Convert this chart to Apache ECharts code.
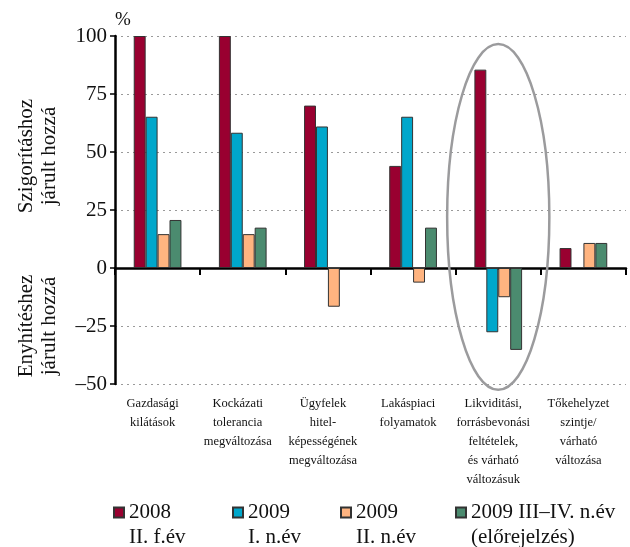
<!DOCTYPE html>
<html>
<head>
<meta charset="utf-8">
<script src="https://cdn.jsdelivr.net/npm/echarts@6/dist/echarts.min.js"></script>
<style>html,body{margin:0;padding:0;background:#fff;}#c{width:630px;height:547px;}</style>
</head>
<body>
<div id="c"></div>
<script>
const categories = [
  'Gazdasági\nkilátások',
  'Kockázati\ntolerancia\nmegváltozása',
  'Ügyfelek\nhitel-\nképességének\nmegváltozása',
  'Lakáspiaci\nfolyamatok',
  'Likviditási,\nforrásbevonási\nfeltételek,\nés várható\nváltozásuk',
  'Tőkehelyzet\nszintje/\nvárható\nváltozása'
];
const seriesNames = ['2008 II. f.év', '2009 I. n.év', '2009 II. n.év', '2009 III–IV. n.év (előrejelzés)'];
const legendLabels = ['2008\nII. f.év', '2009\nI. n.év', '2009\nII. n.év', '2009 III–IV. n.év\n(előrejelzés)'];
const s2008H2 = [100, 100, 70, 44, 85.5, 8.6];
const s2009H1 = [65.2, 58.3, 61, 65.2, -27.7, null];
const s2009H2 = [14.6, 14.6, -16.7, -6.3, -12.6, 10.8];
const s2009H34 = [20.7, 17.4, null, 17.4, -35.3, 10.8];
const yMin = -50, yMax = 100, yStep = 25;
const yTitleUpper = 'Szigorításhoz\njárult hozzá';
const yTitleLower = 'Enyhítéshez\njárult hozzá';
const unitLabel = '%';

const colors = ['#990030', '#00A7CB', '#FFB480', '#4B8B6F'];
const FONT = 'Liberation Serif';
const seriesData = [s2008H2, s2009H1, s2009H2, s2009H34];
const legendLefts = [113, 232, 340, 455];

const titleGraphics = [
  {type: 'text', x: 38, y: 156, rotation: Math.PI / 2,
   style: {text: yTitleUpper, font: '21px "Liberation Serif"', fill: '#111', align: 'center', verticalAlign: 'middle', lineHeight: 23}},
  {type: 'text', x: 38, y: 326, rotation: Math.PI / 2,
   style: {text: yTitleLower, font: '21px "Liberation Serif"', fill: '#111', align: 'center', verticalAlign: 'middle', lineHeight: 23}}
];

const chart = echarts.init(document.getElementById('c'), null, {renderer: 'canvas'});
const option = {
  animation: false,
  backgroundColor: '#fff',
  textStyle: {fontFamily: FONT, color: '#000'},
  grid: {left: 115, right: 4, top: 36, bottom: 163, containLabel: false, outerBoundsMode: 'none'},
  xAxis: {
    type: 'category',
    data: categories,
    boundaryGap: true,
    axisLine: {onZero: true, lineStyle: {color: '#000', width: 2.5}},
    axisTick: {show: true, interval: 0, length: 7, lineStyle: {color: '#000', width: 2}},
    axisLabel: {interval: 0, margin: 10, fontFamily: FONT, fontSize: 12.5, lineHeight: 19, color: '#111', align: 'center',
      padding: [0, 10, 0, 0], hideOverlap: false},
    splitLine: {show: false}
  },
  yAxis: {
    type: 'value',
    min: yMin, max: yMax, interval: yStep,
    name: unitLabel,
    nameLocation: 'end',
    nameGap: 6,
    nameTextStyle: {fontFamily: FONT, fontSize: 19, color: '#111', align: 'left', verticalAlign: 'bottom'},
    axisLine: {show: true, lineStyle: {color: '#000', width: 2.5}},
    axisTick: {show: true, length: 5, lineStyle: {color: '#000', width: 1.5}},
    axisLabel: {margin: 8, fontFamily: FONT, fontSize: 21, color: '#111',
      formatter: v => v < 0 ? '–' + Math.abs(v) : String(v)},
    splitLine: {show: true, lineStyle: {color: '#9a9a9a', width: 1, type: [2, 4]}}
  },
  legend: legendLefts.map((l, i) => ({
    data: [seriesNames[i]],
    left: l, top: 475, padding: 0,
    itemWidth: 10, itemHeight: 10, itemGap: 0,
    icon: 'rect',
    formatter: () => ' \n' + legendLabels[i],
    textStyle: {fontFamily: FONT, fontSize: 21, lineHeight: 25, color: '#111'},
    selectedMode: false
  })),
  series: seriesData.map((d, i) => ({
    name: seriesNames[i],
    type: 'bar',
    data: d,
    barGap: '0%',
    barCategoryGap: '44%',
    itemStyle: {color: colors[i], borderColor: '#333', borderWidth: 1},
    emphasis: {disabled: true}
  })),
  graphic: titleGraphics
};
chart.setOption(option);

// annotation ellipse around the "Likviditási" category, placed via the axes
const pTop = chart.convertToPixel({gridIndex: 0}, [4, 96.5]);
const pBot = chart.convertToPixel({gridIndex: 0}, [4, -52.5]);
const p5 = chart.convertToPixel({gridIndex: 0}, [5, 0]);
const band = p5[0] - pTop[0];
chart.setOption({
  graphic: titleGraphics.concat([
    {type: 'ellipse', z: 100,
     shape: {cx: pTop[0], cy: (pTop[1] + pBot[1]) / 2, rx: band * 0.6, ry: (pBot[1] - pTop[1]) / 2},
     style: {fill: 'none', stroke: '#9b9b9d', lineWidth: 2.5}}
  ])
});
</script>
</body>
</html>
